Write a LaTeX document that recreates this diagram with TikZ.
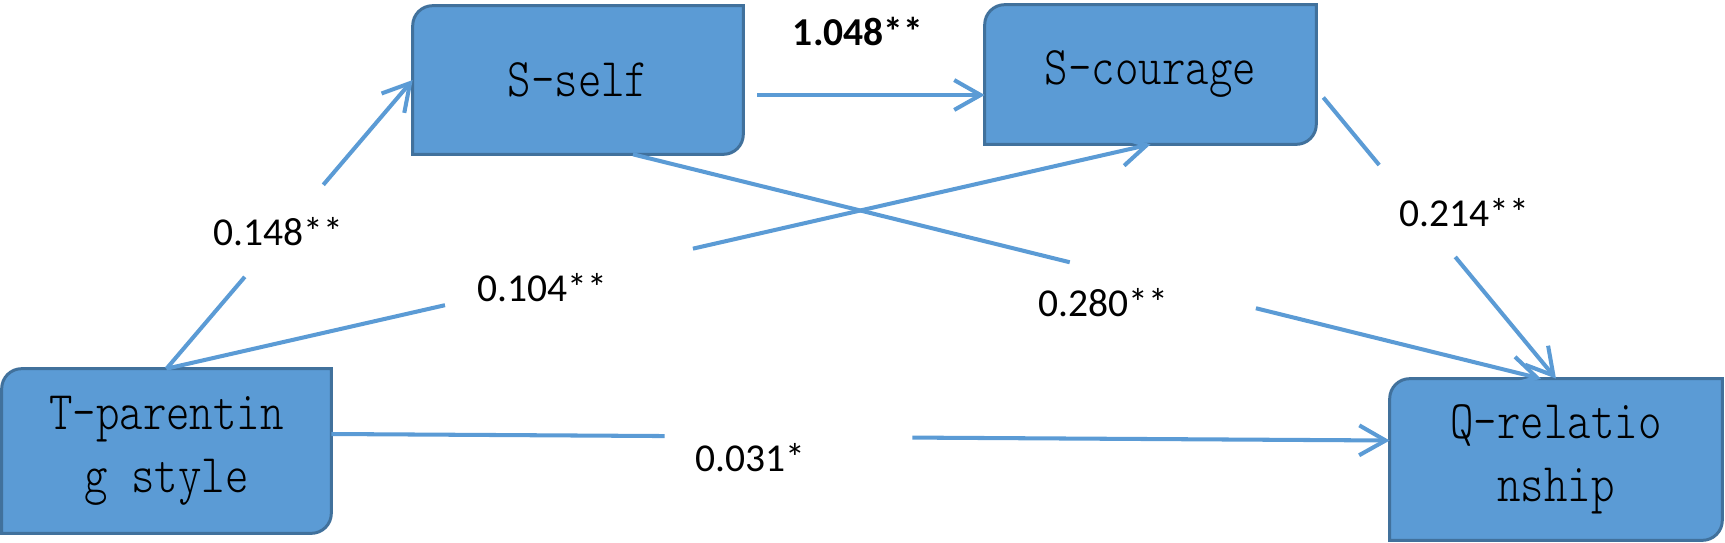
\documentclass[tikz,border=0pt]{standalone}
\usepackage{fontspec}
\usetikzlibrary{arrows.meta,calc,backgrounds}
\newfontfamily\labelfont{Carlito}
\newfontfamily\boxfont[FakeStretch=0.82]{lmmonolt10-regular.otf}
\definecolor{boxfill}{HTML}{5B9BD5}
\definecolor{boxline}{HTML}{41719C}
\definecolor{pathline}{HTML}{5B9BD5}

\begin{document}
\begin{tikzpicture}
		[x=0.02cm, y=-0.02cm,
		 var/.style= {inner sep=0pt, align=center, font=\boxfont\fontsize{31}{36}\selectfont},
		 varshape/.style= {draw=boxline, fill=boxfill, line width=1.7pt},
		 coef/.style= {font=\labelfont\fontsize{22.5}{27}\selectfont},
		 link/.style= {draw=pathline, line width=2.3pt},
		 branch/.style= {link, -{Straight Barb[length=15pt,width=17pt]}}]

		\useasboundingbox (0,0) rectangle (1725,542);

		\node[var, minimum width=6.6cm, minimum height=2.96cm] (sself) at (578,80) {S-self};
		\node[var, minimum width=6.62cm, minimum height=2.78cm] (scour) at (1150.5,74.5) {S-courage};
		\node[var, minimum width=6.58cm, minimum height=3.28cm] (tpar) at (166.5,451) {T-parentin\\g style};
		\node[var, minimum width=6.64cm, minimum height=3.22cm] (qrel) at (1556,459.5) {Q-relatio\\nship};

		% boxes with two rounded corners
		\begin{pgfonlayer}{background}
			\foreach \n in {sself,scour,tpar,qrel}
				\path[varshape] (\n.west) [rounded corners=0.4cm] |- (\n.north)
					[sharp corners] -| (\n.east) [rounded corners=0.4cm] |- (\n.south)
					[sharp corners] -| (\n.west) -- cycle;
		\end{pgfonlayer}

		\coordinate (s3) at ([shift={(14,15)}]sself.east);
		\coordinate (s4) at ([shift={(55,0)}]sself.south);
		\coordinate (q4) at ([shift={(-15,0)}]qrel.north);
		\coordinate (c5) at ([shift={(7,23)}]scour.east);
		\coordinate (t6) at ([shift={(0,-17)}]tpar.east);
		\coordinate (q6) at ([shift={(0,-19)}]qrel.west);

		\draw[link] (tpar.north) -- ($(tpar.north)!.318!(sself.west)$);
		\draw[branch] ($(tpar.north)!.637!(sself.west)$) -- (sself.west);

		\draw[link] (tpar.north) -- ($(tpar.north)!.283!(scour.south)$);
		\draw[branch] ($(tpar.north)!.535!(scour.south)$) -- (scour.south);

		\draw[branch] (s3) -- (s3 -| scour.west);

		\draw[link] (s4) -- ($(s4)!.481!(q4)$);
		\draw[branch] ($(s4)!.686!(q4)$) -- (q4);

		\draw[link] (c5) -- ($(c5)!.24!(qrel.north)$);
		\draw[branch] ($(c5)!.567!(qrel.north)$) -- (qrel.north);

		\draw[link] (t6) -- ($(t6)!.315!(q6)$);
		\draw[branch] ($(t6)!.549!(q6)$) -- (q6);

		\node[coef] (c148) at (278,232) {0.148**};
		\node[coef] (c104) at (542,288) {0.104**};
		\node[coef, font=\labelfont\bfseries\fontsize{22.5}{27}\selectfont] (c1048) at (858,32) {1.048**};
		\node[coef] (c280) at (1103,303) {0.280**};
		\node[coef] (c214) at (1464,213) {0.214**};
		\node[coef] (c031) at (750,458) {0.031*};

	\end{tikzpicture}
\end{document}
